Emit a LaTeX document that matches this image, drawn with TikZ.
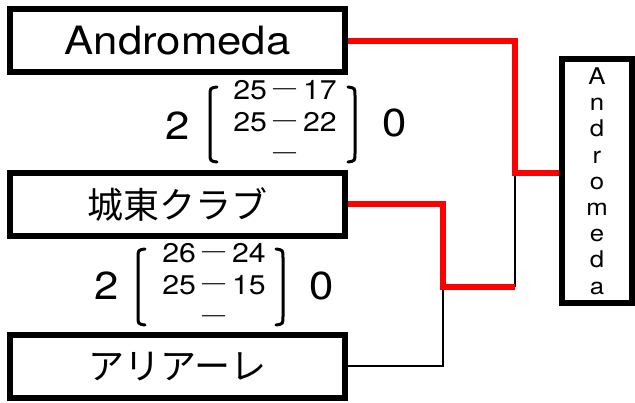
\documentclass[tikz,border=0pt]{standalone}
\usepackage{fontspec}
\setmainfont{TeX Gyre Heros}[FakeStretch=1.12]
\newfontfamily\jp{Noto Sans CJK JP}
\usetikzlibrary{positioning}
\newcommand{\scdash}{\,{\jp ―}\,}
\tikzset{
  team/.style={draw, line width=6pt, minimum width=335pt, minimum height=63pt,
    inner sep=0},
  champ/.style={draw, line width=6pt, minimum width=70pt, minimum height=244pt,
    inner sep=0, align=center, font=\fontsize{23}{26.2}\selectfont},
  win/.style={red, line width=6pt},
  lose/.style={black, line width=2pt},
  sets/.style={font=\fontsize{39}{39}\selectfont, inner sep=0},
  pts/.style={font=\fontsize{27}{32}\selectfont, align=center, inner sep=0},
  brk/.style={line width=3pt, line cap=round}
}

\begin{document}
\begin{tikzpicture}[x=1pt,y=-1pt]
  \useasboundingbox (0,0) rectangle (635,403);

  \node[team,font=\fontsize{39}{39}\selectfont] (andromeda) at (177.5,41) {Andromeda};
  \node[team,font=\jp\fontsize{36}{36}\selectfont] (joto) at (177.5,204.5) {城東クラブ};
  \node[team,font=\jp\fontsize{36}{36}\selectfont] (ariare) at (177.5,366.5) {アリアーレ};
  \node[champ] (winner) at (597,181) {A\\n\\d\\r\\o\\m\\e\\d\\a};

  % first match
  \node[sets] (w1) at (178,126) {2};
  \node[pts] (sc1) at (285,122) {25\scdash17\\25\scdash22\\\scdash};
  \node[sets] (l1) at (395,123) {0};
  \draw[brk] (217,87) .. controls (210,88) .. (210,96) -- (210,153) .. controls (210,161) .. (217,162);
  \draw[brk] (348,87) .. controls (355,88) .. (355,96) -- (355,153) .. controls (355,161) .. (348,162);

  % second match
  \node[sets] (w2) at (107,286) {2};
  \node[pts] (sc2) at (214,285) {26\scdash24\\25\scdash15\\\scdash};
  \node[sets] (l2) at (322,286) {0};
  \draw[brk] (145,249) .. controls (138,250) .. (138,258) -- (138,316) .. controls (138,324) .. (145,325);
  \draw[brk] (276,249) .. controls (283,250) .. (283,258) -- (283,316) .. controls (283,324) .. (276,325);

  % bracket lines
  \coordinate (j1) at (515,173);
  \coordinate (j2) at (443,287);
  \draw[lose] (ariare.east) -| (j2);
  \draw[lose] (j1) -- (j1 |- j2);
  \draw[win] (joto.east) -| (j2) -- (j2 -| j1);
  \draw[win] (andromeda.east) -| (j1) -- (j1 -| winner.west);
\end{tikzpicture}
\end{document}
